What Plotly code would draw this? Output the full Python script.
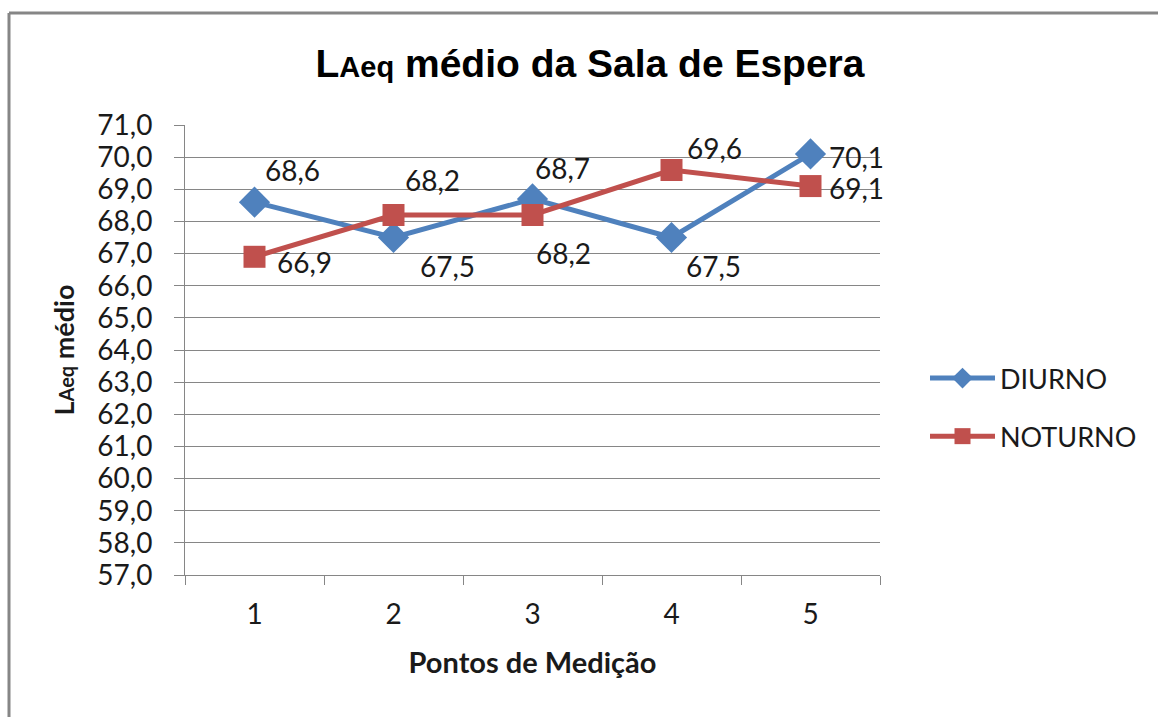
import plotly.graph_objects as go

# ---- data ----
pontos = ["1", "2", "3", "4", "5"]
diurno = [68.6, 67.5, 68.7, 67.5, 70.1]
noturno = [66.9, 68.2, 68.2, 69.6, 69.1]
y_ticks = [57, 58, 59, 60, 61, 62, 63, 64, 65, 66, 67, 68, 69, 70, 71]

# label offsets (pixels) for data labels
diurno_off = [(38, 32), (54, -28), (30, 31), (42, -28), (46, -3)]
noturno_off = [(50, -5), (39, 35), (31, -38), (43, 22), (46, -2)]

BLUE = "#4F81BD"
RED = "#C0504D"
GRID = "#868686"
TXT = "#1a1a1a"
FONT = "Lato"

W, H = 1158, 717
L, R, T, B = 185, 278, 125, 142

fig = go.Figure()
fig.add_trace(go.Scatter(
    x=pontos, y=diurno, name="DIURNO", mode="lines+markers",
    line=dict(color=BLUE, width=5),
    marker=dict(symbol="diamond", size=24, color=BLUE),
    legendgroup="d",
))
fig.add_trace(go.Scatter(
    x=pontos, y=noturno, name="NOTURNO", mode="lines+markers",
    line=dict(color=RED, width=5),
    marker=dict(symbol="square", size=22, color=RED),
    legendgroup="n",
))

ann = []
def fmt(v):
    return f"{v:.1f}".replace(".", ",")
for ys, offs in ((diurno, diurno_off), (noturno, noturno_off)):
    for i, (yv, (dx, dy)) in enumerate(zip(ys, offs)):
        ann.append(dict(x=i, y=yv, text=fmt(yv), showarrow=False,
                        xshift=dx, yshift=dy, xanchor="center", yanchor="middle",
                        font=dict(family=FONT, size=28, color=TXT)))

pw, ph = W - L - R, H - T - B
def px_x(p):
    return (p - L) / pw
def px_y(p):
    return (H - B - p) / ph

shapes = [
    dict(type="line", xref="paper", yref="paper", x0=px_x(9), x1=px_x(W + 5),
         y0=px_y(13), y1=px_y(13), line=dict(color=GRID, width=3)),
    dict(type="line", xref="paper", yref="paper", x0=px_x(9), x1=px_x(9),
         y0=px_y(13), y1=px_y(H + 5), line=dict(color=GRID, width=3)),
]

fig.update_layout(
    width=W, height=H,
    margin=dict(l=L, r=R, t=T, b=B),
    paper_bgcolor="white", plot_bgcolor="white",
    separators=",.",
    title=dict(
        text="L<span style='font-size:29px'>Aeq</span> médio da Sala de Espera",
        x=590 / W, xanchor="center", y=1 - 63 / H, yanchor="middle",
        font=dict(family="Liberation Sans", size=39, color="black", weight="bold"),
    ),
    xaxis=dict(
        type="category", categoryarray=pontos, tickson="boundaries",
        range=[-0.5, 4.5],
        ticks="outside", ticklen=9, ticklabelstandoff=14,
        tickcolor=GRID, showline=True, linecolor=GRID, linewidth=1,
        showgrid=False, tickfont=dict(family=FONT, size=28, color=TXT),
        title=dict(text="<b>Pontos de Medição</b>", standoff=24,
                   font=dict(family=FONT, size=29, color=TXT)),
    ),
    yaxis=dict(
        range=[57, 71], tickvals=y_ticks, tickformat=".1f",
        ticks="outside", ticklen=10, tickcolor=GRID, ticklabelstandoff=16,
        showline=True, linecolor=GRID, linewidth=1,
        showgrid=True, gridcolor=GRID, gridwidth=1, zeroline=False,
        tickfont=dict(family=FONT, size=28, color=TXT),
        title=dict(text="<b>L<span style='font-size:20px'>Aeq</span> médio</b>", standoff=14,
                   font=dict(family=FONT, size=27, color=TXT)),
    ),
    legend=dict(
        x=px_x(925), y=px_y(407.5), xanchor="left", yanchor="middle",
        font=dict(family=FONT, size=27, color=TXT),
        traceorder="grouped", tracegroupgap=20, itemwidth=65,
        bgcolor="rgba(0,0,0,0)",
    ),
    annotations=ann,
    shapes=shapes,
)

fig.write_html("out.html")
